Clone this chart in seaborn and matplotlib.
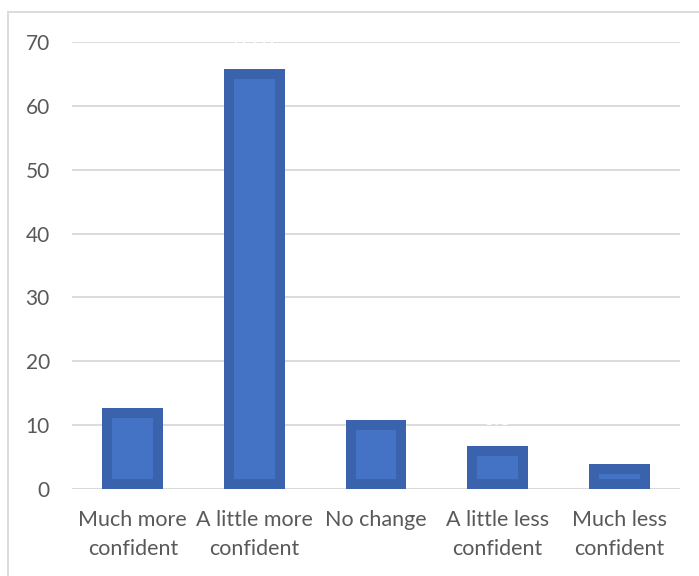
import matplotlib
matplotlib.use("Agg")
import matplotlib.pyplot as plt
import matplotlib.patches as mpatches
import seaborn as sns
import pandas as pd

categories = ["Much more\nconfident", "A little more\nconfident", "No change",
              "A little less\nconfident", "Much less\nconfident"]
values = [12.7, 65.8, 10.8, 6.8, 3.9]
y_ticks = [0, 10, 20, 30, 40, 50, 60, 70]

df = pd.DataFrame({"category": categories, "value": values})

sns.set_style("white")
plt.rcParams["font.family"] = ["Lato", "DejaVu Sans"]

fig = plt.figure(figsize=(6.99, 5.76), dpi=100)
ax = fig.add_axes([72 / 699, 1 - 489 / 576, 608 / 699, 447 / 576])

sns.barplot(data=df, x="category", y="value", ax=ax, color="#4472C4",
            width=0.5, saturation=1, edgecolor="#3B63AD", linewidth=14.4,
            zorder=3)

# keep only the inner half of the thick edge (Excel-like inset border)
for bar in ax.patches:
    bar.set_clip_path(bar)

ax.bar_label(ax.containers[0], labels=[f"{v:g}" for v in values],
             padding=12, color="white", fontsize=15, zorder=4)

ax.set_ylim(0, 70)
ax.set_yticks(y_ticks)
ax.set_xlim(-0.5, len(categories) - 0.5)
ax.yaxis.grid(True, color="#D9D9D9", linewidth=1.3, zorder=0)
ax.set_axisbelow(True)
for s in ax.spines.values():
    s.set_visible(False)
ax.axhline(0, color="#D9D9D9", linewidth=1.3, zorder=1)

ax.set_xlabel("")
ax.set_ylabel("")
ax.tick_params(axis="y", length=0, labelsize=15, colors="#595959", pad=16)
ax.tick_params(axis="x", length=0, labelsize=15.5, colors="#595959", pad=15)
for lbl in ax.get_xticklabels():
    lbl.set_linespacing(1.6)

# chart frame
fig.patches.append(mpatches.Rectangle((8 / 699, -0.01), 1.0, 1 - 12 / 576 + 0.01,
                                      transform=fig.transFigure, fill=False,
                                      edgecolor="#D9D9D9", linewidth=1.3))

fig.savefig("out.png", dpi=100)
